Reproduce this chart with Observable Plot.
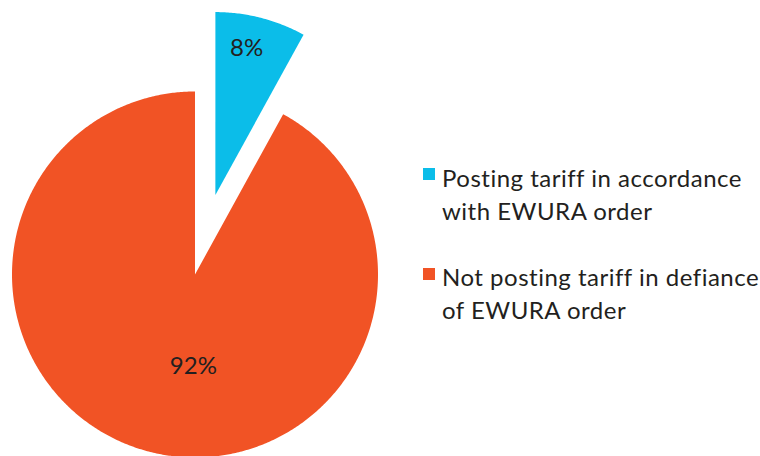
<!DOCTYPE html>
<html>
<head>
<meta charset="utf-8">
<script src="https://cdn.jsdelivr.net/npm/d3@7"></script>
<script src="https://cdn.jsdelivr.net/npm/@observablehq/plot@0.6"></script>
<style>
  html, body { margin: 0; padding: 0; background: #fff; }
  #wrap { position: relative; width: 760px; height: 456px; overflow: hidden; font-family: Lato, "Open Sans", sans-serif; color: #231F20; }
  #chart { position: absolute; left: 0; top: 0; }
  .leg { position: absolute; left: 423px; font-size: 24px; line-height: 33px; letter-spacing: 0.5px; }
  .leg .sw { position: absolute; left: 0; width: 12px; height: 12px; }
  .leg .tx { position: absolute; left: 19px; white-space: nowrap; }
</style>
</head>
<body>
<div id="wrap"><div id="chart"></div></div>
<script>
// ---- data ----
const categories = ["Posting tariff in accordance with EWURA order", "Not posting tariff in defiance of EWURA order"];
const legendLines = [["Posting tariff in accordance", "with EWURA order"], ["Not posting tariff in defiance", "of EWURA order"]];
const values = [8, 92];
const labels = ["8%", "92%"];
const colors = ["#0BBDE9", "#F15325"];

// ---- layout (pixels) ----
const W = 760, H = 456;
const cx = 194.5, cy = 274, R = 183;
const explodeBy = [82, 0];
const labelPlace = [{r: 150, deg: 12}, {r: 92, deg: 181}]; // relative to each slice's apex

const arcs = d3.pie().sort(null).startAngle(0).endAngle(2 * Math.PI)(values);

const polyPts = [];
const labelPts = [];
arcs.forEach((a, i) => {
  const mid = (a.startAngle + a.endAngle) / 2;
  const ox = cx + explodeBy[i] * Math.sin(mid);
  const oy = cy - explodeBy[i] * Math.cos(mid);
  const full = (a.endAngle - a.startAngle) >= 2 * Math.PI - 1e-9;
  if (!full) polyPts.push({cat: categories[i], x: ox, y: oy});
  const n = Math.max(8, Math.ceil((a.endAngle - a.startAngle) / (Math.PI / 360)));
  for (let k = 0; k <= n; k++) {
    const t = a.startAngle + (a.endAngle - a.startAngle) * k / n;
    polyPts.push({cat: categories[i], x: ox + R * Math.sin(t), y: oy - R * Math.cos(t)});
  }
  const lp = labelPlace[i];
  const la = lp.deg * Math.PI / 180;
  labelPts.push({label: labels[i], x: ox + lp.r * Math.sin(la), y: oy - lp.r * Math.cos(la)});
});

const plot = Plot.plot({
  width: W,
  height: H,
  margin: 0,
  x: {domain: [0, W], range: [0, W], axis: null},
  y: {domain: [0, H], range: [0, H], axis: null},
  color: {domain: categories, range: colors},
  style: {background: "transparent", fontFamily: "Lato, 'Open Sans', sans-serif"},
  marks: [
    Plot.line(polyPts, {x: "x", y: "y", z: "cat", fill: "cat", stroke: "none", curve: "linear-closed"}),
    Plot.text(labelPts, {x: "x", y: "y", text: "label", fontSize: 24, fill: "#231F20"})
  ]
});
document.getElementById("chart").appendChild(plot);

// ---- legend ----
const legTops = [161, 259.5];
const wrap = document.getElementById("wrap");
categories.forEach((c, i) => {
  const d = document.createElement("div");
  d.className = "leg";
  d.style.top = legTops[i] + "px";
  const sw = document.createElement("div");
  sw.className = "sw";
  sw.style.background = colors[i];
  sw.style.top = (i === 0 ? 7 : 8) + "px";
  const tx = document.createElement("div");
  tx.className = "tx";
  tx.innerHTML = legendLines[i].join("<br>");
  d.appendChild(sw);
  d.appendChild(tx);
  wrap.appendChild(d);
});
</script>
</body>
</html>
